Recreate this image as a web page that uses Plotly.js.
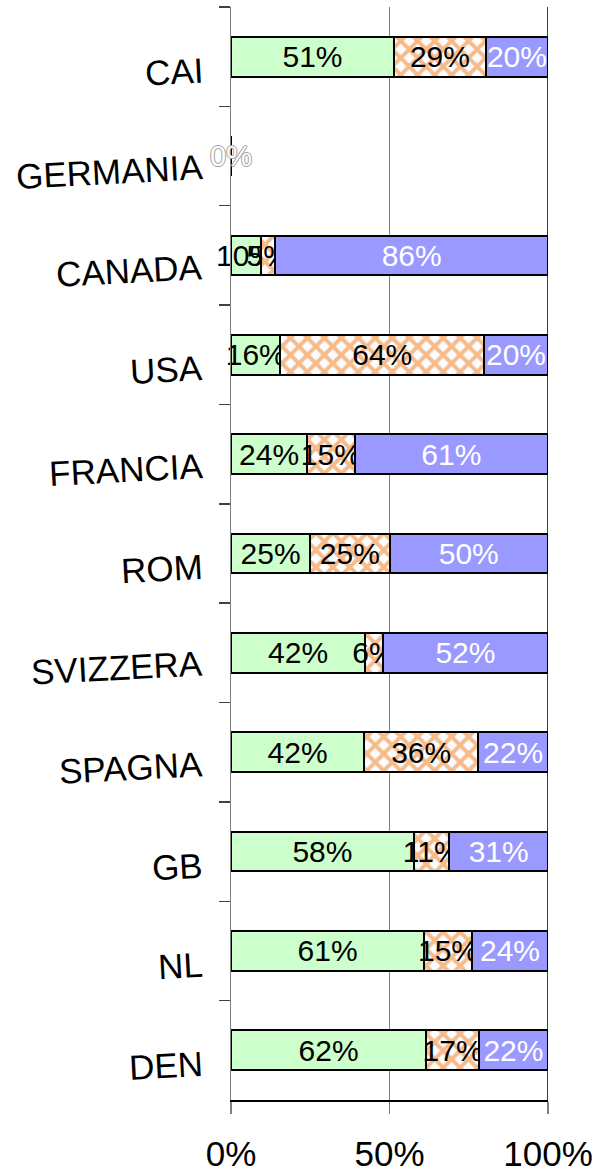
<!DOCTYPE html>
<html>
<head>
<meta charset="utf-8">
<script src="https://cdn.plot.ly/plotly-3.0.1.min.js"></script>
<style>html,body{margin:0;padding:0;background:#fff;}#chart{width:597px;height:1173px;}</style>
</head>
<body>
<div id="chart"></div>
<script>
const categories = ['CAI','GERMANIA','CANADA','USA','FRANCIA','ROM','SVIZZERA','SPAGNA','GB','NL','DEN'];
const greenValues  = [51.4, 0, 9.5, 15.6, 24, 25, 42.3, 42, 57.7, 60.9, 61.6];
const orangeValues = [29.0, 0, 4.5, 64.2, 15, 25, 5.6, 36, 11.2, 15.1, 16.6];
const blueValues   = [19.6, 0, 86.0, 20.2, 61, 50, 52.1, 22, 31.1, 24.0, 21.8];
const xTickVals = [0, 50, 100];
const xTickText = ['0%', '50%', '100%'];

const FONT = 'Arial, "Liberation Sans", sans-serif';
const lbl = v => v > 0 ? Math.round(v) + '%' : '';

function barTrace(name, vals, color, textColor, pattern) {
  const t = {
    type: 'bar', orientation: 'h', name: name,
    x: vals, y: categories,
    text: vals.map(lbl), textposition: 'inside', insidetextanchor: 'middle',
    textangle: 0, constraintext: 'none', cliponaxis: false,
    textfont: {family: FONT, size: 30, color: textColor},
    marker: {color: color, line: {color: '#000', width: 2}},
    hoverinfo: 'none'
  };
  if (pattern) t.marker.pattern = pattern;
  return t;
}

const data = [
  barTrace('Verde', greenValues, '#ccffcc', '#000'),
  barTrace('Arancio', orangeValues, '#fdf3ea', '#000',
    {shape: 'x', fgcolor: '#f6bb88', bgcolor: '#fbfcff', size: 12, solidity: 0.55, fillmode: 'replace'}),
  barTrace('Blu', blueValues, '#9999ff', '#fff')
];

const annotations = categories.map(c => ({
  x: 0, xref: 'paper', xanchor: 'right', xshift: -25,
  y: c, yref: 'y', yanchor: 'middle', yshift: -15,
  text: c, showarrow: false, textangle: -3,
  font: {family: FONT, size: 35, color: '#000'}
}));
categories.forEach((c, i) => {
  if (greenValues[i] + orangeValues[i] + blueValues[i] === 0) {
    annotations.push({
      x: 0, xref: 'x', xanchor: 'center', y: c, yref: 'y', yanchor: 'middle',
      text: '0%', showarrow: false,
      font: {family: FONT, size: 29, color: '#ffffff',
        shadow: '1px 0 0 #a0a0a0, -1px 0 0 #a0a0a0, 0 1px 0 #a0a0a0, 0 -1px 0 #a0a0a0'}
    });
  }
});

const layout = {
  width: 597, height: 1173,
  margin: {l: 231, r: 49, t: 7, b: 73},
  paper_bgcolor: '#fff', plot_bgcolor: '#fff',
  barmode: 'stack', bargap: 0.6, showlegend: false,
  font: {family: FONT, color: '#000'},
  xaxis: {
    range: [0, 100], tickvals: xTickVals, ticktext: xTickText,
    showgrid: true, gridcolor: '#808080', gridwidth: 1, zeroline: false,
    showline: true, linecolor: '#000', linewidth: 1.5,
    ticks: 'outside', ticklen: 12, tickcolor: '#808080', tickwidth: 1.5,
    ticklabelstandoff: 10,
    tickfont: {family: FONT, size: 35, color: '#000'}
  },
  yaxis: {
    type: 'category', autorange: 'reversed',
    showticklabels: false, showgrid: false, zeroline: false,
    showline: true, linecolor: '#808080', linewidth: 1.5,
    ticks: 'outside', tickson: 'boundaries', ticklen: 11, tickcolor: '#404040', tickwidth: 1.5
  },
  shapes: [{type: 'line', xref: 'x', yref: 'paper', x0: 100, x1: 100, y0: 0, y1: 1,
            line: {color: '#000', width: 1.5}, layer: 'below'}],
  annotations: annotations
};

Plotly.newPlot('chart', data, layout, {staticPlot: true, displayModeBar: false});
</script>
</body>
</html>
